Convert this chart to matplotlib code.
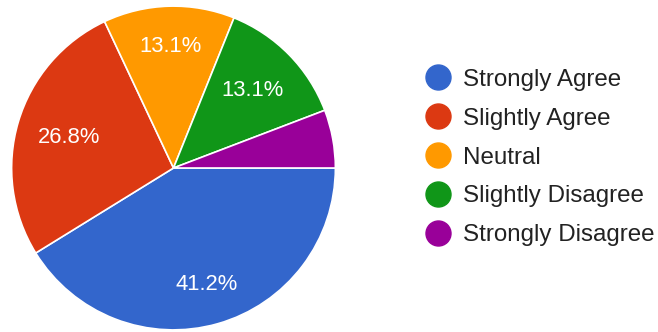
import numpy as np
import matplotlib.pyplot as plt
from matplotlib.lines import Line2D

plt.rcParams['font.family'] = ['Liberation Sans', 'DejaVu Sans']

# Survey responses (percent)
labels = ["Strongly Agree", "Slightly Agree", "Neutral", "Slightly Disagree", "Strongly Disagree"]
shares = [41.2, 26.8, 13.1, 13.1, 5.8]
colors = ["#3366cc", "#dc3912", "#ff9900", "#109618", "#990099"]

fig = plt.figure(figsize=(6.58, 3.32), dpi=100)
ax = fig.add_axes([10 / 658, 0.5 / 332, 327 / 658, 327 / 332])

# only label slices big enough to hold text
def pct_label(p):
    return f"{p:.1f}%" if p >= 10 else ""

wedges, _, autotexts = ax.pie(
    shares, colors=colors, startangle=0, counterclock=False,
    autopct=pct_label, pctdistance=0.75,
    wedgeprops=dict(edgecolor="white", linewidth=1.2),
    textprops=dict(color="white", fontsize=15.8),
)

# pull the red and green labels a bit further into their slices
for i, r in [(1, 0.67), (3, 0.68)]:
    w = wedges[i]
    ang = np.deg2rad((w.theta1 + w.theta2) / 2)
    autotexts[i].set_position((r * np.cos(ang), r * np.sin(ang)))

ax.set_xlim(-1.01, 1.01)
ax.set_ylim(-1.01, 1.01)
ax.set_aspect("equal")

handles = [Line2D([], [], marker="o", linestyle="", markersize=18,
                  markerfacecolor=c, markeredgecolor=c) for c in colors]
fig.legend(handles, labels, loc="center left", bbox_to_anchor=(411 / 658, 1 - 157.5 / 332),
           frameon=False, fontsize=17.4, labelspacing=0.7, handletextpad=0.45,
           handlelength=1.2, labelcolor="#222222", borderpad=0)

fig.savefig("out.png", dpi=100)
